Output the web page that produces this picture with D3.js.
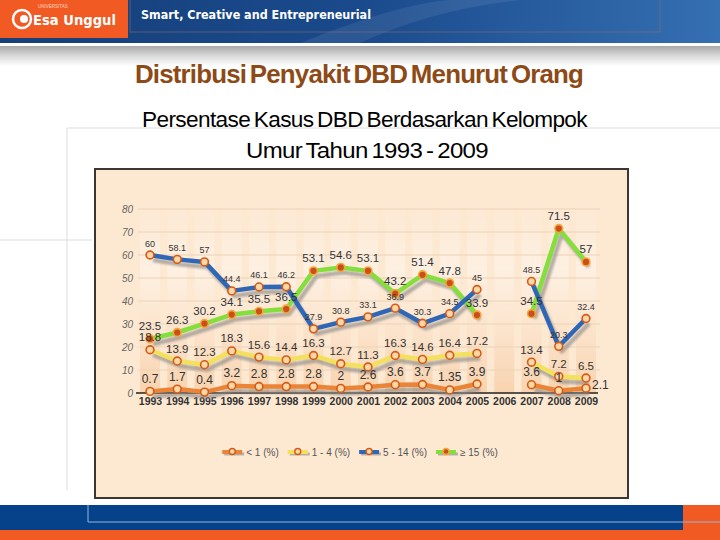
<!DOCTYPE html>
<html><head><meta charset="utf-8">
<script src="https://cdn.jsdelivr.net/npm/d3@7"></script>
<style>html,body{margin:0;padding:0;background:#fff;}svg{display:block;}</style>
</head><body>
<svg id="c" width="720" height="540"></svg>
<script>
const years = ["1993","1994","1995","1996","1997","1998","1999","2000","2001","2002","2003","2004","2005","2006","2007","2008","2009"];
const lt1   = [0.7,1.7,0.4,3.2,2.8,2.8,2.8,2,2.6,3.6,3.7,1.35,3.9,null,3.6,1,2.1];
const age1to4 = [18.8,13.9,12.3,18.3,15.6,14.4,16.3,12.7,11.3,16.3,14.6,16.4,17.2,null,13.4,7.2,6.5];
const age5to14 = [60,58.1,57,44.4,46.1,46.2,27.9,30.8,33.1,36.9,30.3,34.5,45,null,48.5,20.3,32.4];
const age15up = [23.5,26.3,30.2,34.1,35.5,36.5,53.1,54.6,53.1,43.2,51.4,47.8,33.9,null,34.5,71.5,57];
const seriesNames = ["< 1  (%)","1 - 4 (%)","5 - 14 (%)","\u2265 15 (%)"];
const yTicks = [0,10,20,30,40,50,60,70,80];

const svg = d3.select("#c");
const defs = svg.append("defs");
function lg(id, stops, x2, y2){
  const g = defs.append("linearGradient").attr("id",id).attr("x1",0).attr("y1",0).attr("x2",x2).attr("y2",y2);
  stops.forEach(s=>g.append("stop").attr("offset",s[0]).attr("stop-color",s[1]).attr("stop-opacity",s[2]===undefined?1:s[2]));
}
lg("hdr",[[0,"#163f7a"],[0.5,"#1a4a8c"],[1,"#3570b2"]],1,0);
lg("gband",[[0,"#a9a9a9"],[0.5,"#d9d9d9"],[1,"#ffffff"]],0,1);
lg("stripe",[[0,"#ffffff",0.0],[0.35,"#ffffff",0.35],[1,"#f3b983",0.45]],0,1);
const blur = defs.append("filter").attr("id","sh").attr("x","-10%").attr("y","-10%").attr("width","130%").attr("height","130%");
blur.append("feGaussianBlur").attr("stdDeviation",1.2);

// ---- slide background ----
svg.append("rect").attr("x",0).attr("y",0).attr("width",720).attr("height",540).attr("fill","#fff");
svg.append("rect").attr("x",0).attr("y",0).attr("width",720).attr("height",43).attr("fill","url(#hdr)");
svg.append("path").attr("d","M300,43 Q420,-5 470,0 L520,0 Q430,10 360,43 Z").attr("fill","#ffffff").attr("opacity",0.08);
svg.append("rect").attr("x",130).attr("y",-2).attr("width",530).attr("height",34).attr("fill","none").attr("stroke","#8a6a6a").attr("stroke-width",1).attr("opacity",0.6);
svg.append("rect").attr("x",0).attr("y",0).attr("width",128).attr("height",38).attr("fill","#f15a22");
svg.append("circle").attr("cx",22).attr("cy",19).attr("r",9).attr("fill","none").attr("stroke","#fff").attr("stroke-width",2.5);
svg.append("circle").attr("cx",24).attr("cy",19).attr("r",4).attr("fill","#fff");
svg.append("text").attr("x",38).attr("y",8).attr("font-family","Liberation Sans").attr("font-size",4.5).attr("fill","#ffd9c4").text("UNIVERSITAS");
svg.append("text").attr("x",33).attr("y",25).attr("font-family","DejaVu Sans").attr("font-weight","bold").attr("font-size",14).attr("fill","#fff").attr("textLength",83).attr("lengthAdjust","spacingAndGlyphs").text("Esa Unggul");
svg.append("text").attr("x",141).attr("y",19).attr("font-family","DejaVu Sans Condensed, DejaVu Sans").attr("font-weight","bold").attr("font-size",12.5).attr("fill","#fff").attr("textLength",230).attr("lengthAdjust","spacingAndGlyphs").text("Smart, Creative and Entrepreneurial");
svg.append("rect").attr("x",0).attr("y",46).attr("width",720).attr("height",20).attr("fill","url(#gband)");

// faint slide lines
const faint = svg.append("g").attr("stroke","#dcdcdc").attr("stroke-width",1).attr("fill","none");
faint.append("path").attr("d","M67,490 L67,128 L720,128");
faint.append("path").attr("d","M0,240 L95,240");

// titles
svg.append("text").attr("x",135).attr("y",83).attr("font-family","Liberation Sans").attr("font-weight","bold").attr("font-size",25).attr("word-spacing",-2.5).attr("letter-spacing",-0.8).attr("fill","#8e4a16").attr("textLength",448).attr("lengthAdjust","spacingAndGlyphs").text("Distribusi Penyakit DBD Menurut Orang");
svg.append("text").attr("x",142).attr("y",127).attr("font-family","Liberation Sans").attr("font-size",22).attr("word-spacing",-2).attr("letter-spacing",-0.6).attr("fill","#000").attr("textLength",445).attr("lengthAdjust","spacingAndGlyphs").text("Persentase Kasus DBD Berdasarkan Kelompok");
svg.append("text").attr("x",246).attr("y",158).attr("font-family","Liberation Sans").attr("font-size",22).attr("word-spacing",-2).attr("letter-spacing",-0.6).attr("fill","#000").attr("textLength",242).attr("lengthAdjust","spacingAndGlyphs").text("Umur Tahun 1993 - 2009");

// bottom bar
svg.append("rect").attr("x",0).attr("y",505).attr("width",720).attr("height",35).attr("fill","#f15a22");
svg.append("rect").attr("x",0).attr("y",505).attr("width",683).attr("height",25).attr("fill","#05428a");
svg.append("path").attr("d","M88,505 L88,522 L720,522").attr("fill","none").attr("stroke","#8fb6e2").attr("stroke-width",1);

// ---- chart box ----
svg.append("rect").attr("x",92).attr("y",166).attr("width",539).attr("height",336).attr("fill","#fff");
svg.append("rect").attr("x",95).attr("y",169).attr("width",533).attr("height",329).attr("fill","#fde8d2").attr("stroke","#3c3530").attr("stroke-width",2);

const x = d3.scalePoint().domain(years).range([150,586]);
const y = d3.scaleLinear().domain([0,80]).range([393,209]);

// stripes
svg.append("g").selectAll("rect").data(years).join("rect")
  .attr("x",d=>x(d)-10).attr("y",y(80)-8).attr("width",20).attr("height",y(0)-y(80)+8)
  .attr("fill","url(#stripe)");

// gridlines
svg.append("g").selectAll("line").data(yTicks.filter(t=>t>0)).join("line")
  .attr("x1",138).attr("x2",600).attr("y1",d=>y(d)).attr("y2",d=>y(d))
  .attr("stroke","#ecd3b8").attr("stroke-width",1);

// y axis labels
const yAxis = d3.axisLeft(y).tickValues(yTicks).tickSize(0).tickPadding(6);
const ya = svg.append("g").attr("transform","translate(139,0)").call(yAxis);
ya.select(".domain").remove();
ya.selectAll("text").attr("font-family","Liberation Sans").attr("font-style","italic").attr("font-size",10).attr("fill","#666");
// x axis
const xAxis = d3.axisBottom(x).tickSize(0).tickPadding(5);
const xa = svg.append("g").attr("transform","translate(0,393)").call(xAxis);
xa.select(".domain").attr("d","M136,0H598").attr("stroke","#222").attr("stroke-width",1.6);
xa.selectAll("text").attr("font-family","Liberation Sans Narrow, Liberation Sans").attr("font-weight","bold").attr("font-size",10.5).attr("fill","#333");

const series = [
  {name:seriesNames[0], vals:lt1, color:"#ea8537", mf:"#fbd7a6", ms:"#d45a18", fs:12, lc:"#333"},
  {name:seriesNames[1], vals:age1to4, color:"#f3e05c", mf:"#fbd7a6", ms:"#d45a18", fs:11.5, lc:"#333"},
  {name:seriesNames[2], vals:age5to14, color:"#2f66b6", mf:"#fbd7a6", ms:"#d45a18", fs:9, lc:"#333"},
  {name:seriesNames[3], vals:age15up, color:"#84de3c", mf:"#c9501a", ms:"#f6a63a", fs:11.5, lc:"#333"}
];
const line = d3.line().defined(d=>d.v!=null).x(d=>x(d.y)).y(d=>y(d.v));
const drawOrder = [3,2,1,0];
// shadows
const shg = svg.append("g").attr("filter","url(#sh)");
drawOrder.forEach(i=>{
  const s = series[i];
  const pts = years.map((yy,k)=>({y:yy,v:s.vals[k]}));
  shg.append("path").attr("d",line(pts)).attr("transform","translate(3,5)")
    .attr("fill","none").attr("stroke","#8d8a86").attr("stroke-width",4.5).attr("opacity",0.65).attr("stroke-linejoin","round");
});
drawOrder.forEach(i=>{
  const s = series[i];
  const pts = years.map((yy,k)=>({y:yy,v:s.vals[k]}));
  svg.append("path").attr("d",line(pts)).attr("fill","none").attr("stroke",s.color).attr("stroke-width",4.5).attr("stroke-linejoin","round");
});
drawOrder.forEach(i=>{
  const s = series[i];
  const pts = years.map((yy,k)=>({y:yy,v:s.vals[k]})).filter(d=>d.v!=null);
  svg.append("g").selectAll("circle").data(pts).join("circle")
    .attr("cx",d=>x(d.y)).attr("cy",d=>y(d.v)).attr("r",3.9)
    .attr("fill",s.mf).attr("stroke",s.ms).attr("stroke-width",1.6);
});
// labels (with a simple collision nudge between series in the same year)
const placed = [];
[1,0,2,3].forEach(i=>{
  const s = series[i];
  const pts = years.map((yy,k)=>({y:yy,v:s.vals[k]})).filter(d=>d.v!=null);
  pts.forEach(d=>{
    let lx = x(d.y), ly = y(d.v)-8.5, anchor = "middle";
    const hit = placed.find(p=>p.year===d.y && Math.abs(p.ly-ly)<s.fs*0.9);
    if(hit){ lx = x(d.y)+6; ly = y(d.v)+1; anchor = "start"; }
    placed.push({year:d.y, ly});
    svg.append("text").attr("x",lx).attr("y",ly).attr("text-anchor",anchor)
      .attr("font-family","Liberation Sans Narrow, Liberation Sans").attr("font-size",s.fs).attr("fill",s.lc)
      .text(d.v);
  });
});

// legend
const leg = svg.append("g");
const items = [];
series.forEach(s=>{
  const g = leg.append("g");
  g.append("line").attr("x1",2).attr("x2",22).attr("y1",2).attr("y2",2).attr("stroke","#8d8a86").attr("stroke-width",3).attr("opacity",0.6);
  g.append("line").attr("x1",0).attr("x2",20).attr("y1",0).attr("y2",0).attr("stroke",s.color).attr("stroke-width",4);
  g.append("circle").attr("cx",10).attr("cy",-0.5).attr("r",3).attr("fill",s.mf).attr("stroke",s.ms).attr("stroke-width",1.4);
  const t = g.append("text").attr("x",24).attr("y",4).attr("font-family","Liberation Sans").attr("font-size",10).attr("fill","#555").text(s.name);
  const w = 24 + t.node().getComputedTextLength();
  items.push({g,w});
});
const gap = 9;
const total = d3.sum(items,d=>d.w) + gap*(items.length-1);
let px = 360 - total/2;
items.forEach(it=>{ it.g.attr("transform",`translate(${px},452)`); px += it.w + gap; });
</script>
</body></html>
